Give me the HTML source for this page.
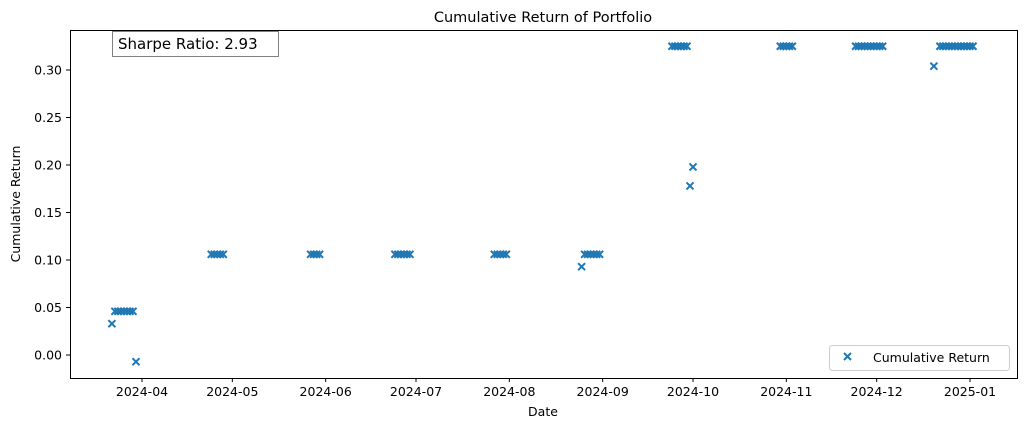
<!DOCTYPE html>
<html><head><meta charset="utf-8"><style>
body{margin:0;background:#fff;}
svg{display:block;font-family:"DejaVu Sans","Liberation Sans",sans-serif;}
</style></head><body>
<svg id="chart" width="1025" height="430">
<text x="543" y="22" text-anchor="middle" font-size="14.5">Cumulative Return of Portfolio</text>
<text x="543" y="416" text-anchor="middle" font-size="12.5">Date</text>
<text transform="translate(20,204) rotate(-90)" text-anchor="middle" font-size="12.5">Cumulative Return</text>
<g id="marks"></g>
<g id="axes"></g>
<rect x="70.5" y="30.5" width="947" height="348" fill="none" stroke="#000" stroke-width="1"/>
<g>
<rect x="112.5" y="31.5" width="166" height="25" fill="#fff" stroke="#808080" stroke-width="1"/>
<text x="118" y="49" font-size="15">Sharpe Ratio: 2.93</text>
</g>
<g>
<rect x="829.5" y="345.5" width="180" height="25" rx="3" fill="#fff" stroke="#ccc" stroke-width="1"/>
<path d="M844,353 L851,360 M851,353 L844,360" stroke="#1f77b4" stroke-width="2"/>
<text x="873" y="362" font-size="12.5">Cumulative Return</text>
</g>
</svg>
<script>
const dates = ["2024-03-22","2024-03-23","2024-03-24","2024-03-25","2024-03-26","2024-03-27","2024-03-28","2024-03-29","2024-03-30",
"2024-04-24","2024-04-25","2024-04-26","2024-04-27","2024-04-28",
"2024-05-27","2024-05-28","2024-05-29","2024-05-30",
"2024-06-24","2024-06-25","2024-06-26","2024-06-27","2024-06-28","2024-06-29",
"2024-07-27","2024-07-28","2024-07-29","2024-07-30","2024-07-31",
"2024-08-25","2024-08-26","2024-08-27","2024-08-28","2024-08-29","2024-08-30","2024-08-31",
"2024-09-24","2024-09-25","2024-09-26","2024-09-27","2024-09-28","2024-09-29","2024-09-30","2024-10-01",
"2024-10-30","2024-10-31","2024-11-01","2024-11-02","2024-11-03",
"2024-11-24","2024-11-25","2024-11-26","2024-11-27","2024-11-28","2024-11-29","2024-11-30","2024-12-01","2024-12-02","2024-12-03",
"2024-12-20","2024-12-22","2024-12-23","2024-12-24","2024-12-25","2024-12-26","2024-12-27","2024-12-28","2024-12-29","2024-12-30","2024-12-31","2025-01-01","2025-01-02"];
const values = [0.033,0.046,0.046,0.046,0.046,0.046,0.046,0.046,-0.007,
0.106,0.106,0.106,0.106,0.106,
0.106,0.106,0.106,0.106,
0.106,0.106,0.106,0.106,0.106,0.106,
0.106,0.106,0.106,0.106,0.106,
0.093,0.106,0.106,0.106,0.106,0.106,0.106,
0.325,0.325,0.325,0.325,0.325,0.325,0.178,0.198,
0.325,0.325,0.325,0.325,0.325,
0.325,0.325,0.325,0.325,0.325,0.325,0.325,0.325,0.325,0.325,
0.304,0.325,0.325,0.325,0.325,0.325,0.325,0.325,0.325,0.325,0.325,0.325,0.325];
const xTicks = ["2024-04","2024-05","2024-06","2024-07","2024-08","2024-09","2024-10","2024-11","2024-12","2025-01"];
const yTicks = [0.00,0.05,0.10,0.15,0.20,0.25,0.30];

const NS="http://www.w3.org/2000/svg";
const t0=Date.UTC(2024,3,1), t1=Date.UTC(2025,0,1);
function xs(s){const p=s.split("-").map(Number);const t=Date.UTC(p[0],p[1]-1,p[2]||1);return 142+(t-t0)/(t1-t0)*(970-142);}
function ys(v){return 355-v*950;}
const marks=document.getElementById("marks");
dates.forEach((d,i)=>{
  const x=xs(d),y=ys(values[i]);
  const p=document.createElementNS(NS,"path");
  p.setAttribute("d",`M${x-3.5},${y-3.5}L${x+3.5},${y+3.5}M${x+3.5},${y-3.5}L${x-3.5},${y+3.5}`);
  p.setAttribute("stroke","#1f77b4");p.setAttribute("stroke-width","2");
  
  
  marks.appendChild(p);
});
const axes=document.getElementById("axes");
xTicks.forEach(l=>{
  const x=xs(l);
  const ln=document.createElementNS(NS,"line");
  ln.setAttribute("x1",x);ln.setAttribute("x2",x);ln.setAttribute("y1",378);ln.setAttribute("y2",382);ln.setAttribute("stroke","#000");
  
  
  axes.appendChild(ln);
  const tx=document.createElementNS(NS,"text");
  tx.setAttribute("x",x);tx.setAttribute("y",396);tx.setAttribute("text-anchor","middle");tx.setAttribute("font-size","12.5");
  tx.textContent=l;
  
  
  axes.appendChild(tx);
});
yTicks.forEach(v=>{
  const y=ys(v);
  const ln=document.createElementNS(NS,"line");
  ln.setAttribute("x1",66);ln.setAttribute("x2",70);ln.setAttribute("y1",y);ln.setAttribute("y2",y);ln.setAttribute("stroke","#000");
  
  
  axes.appendChild(ln);
  const tx=document.createElementNS(NS,"text");
  tx.setAttribute("x",62);tx.setAttribute("y",y+4.5);tx.setAttribute("text-anchor","end");tx.setAttribute("font-size","12.5");
  tx.textContent=v.toFixed(2);
  
  
  axes.appendChild(tx);
});
</script>
</body></html>
